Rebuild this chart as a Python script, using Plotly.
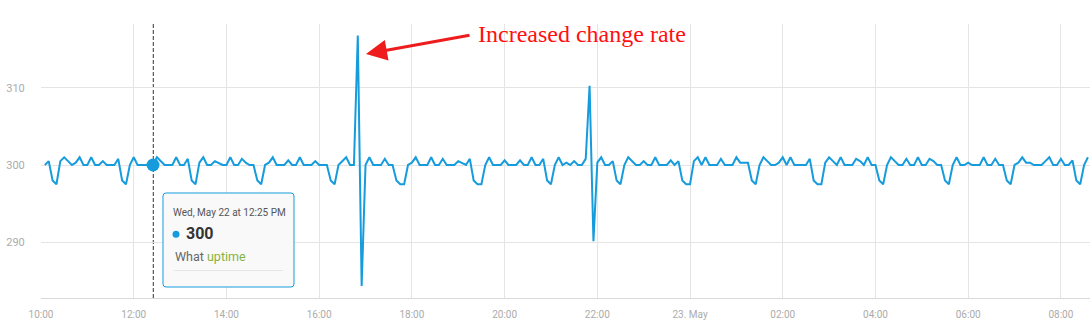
import pandas as pd
import plotly.graph_objects as go

# ---------------- data ----------------
start_time = "2019-05-22 10:05"
step = "5min"
values = [
    300.0, 300.5, 298.0, 297.5, 300.5, 301.0, 300.5, 300.0, 300.3, 301.0,
    300.0, 300.0, 301.0, 300.0, 300.0, 300.5, 300.0, 300.0, 300.0, 300.8,
    298.0, 297.5, 300.0, 301.0, 300.0, 300.0, 300.0, 300.0, 300.0, 301.0,
    300.5, 300.0, 300.0, 300.0, 301.0, 300.0, 300.0, 300.8, 298.0, 297.5,
    300.3, 301.0, 300.0, 300.0, 300.5, 300.3, 300.0, 300.0, 301.0, 300.0,
    300.0, 300.8, 300.3, 300.0, 300.0, 298.0, 297.5, 300.0, 300.3, 301.0,
    300.0, 300.0, 300.0, 300.6, 300.0, 300.0, 301.0, 300.0, 300.0, 300.0,
    300.5, 300.0, 300.0, 300.0, 298.0, 297.5, 300.0, 300.5, 301.0, 300.0,
    300.0, 316.8, 284.3, 300.0, 301.0, 300.0, 300.0, 300.0, 300.8, 300.0,
    300.0, 298.0, 297.5, 297.5, 300.0, 300.3, 301.0, 300.0, 300.0, 300.0,
    301.0, 300.0, 300.0, 300.8, 300.0, 300.0, 300.0, 300.5, 300.3, 300.0,
    300.8, 298.0, 297.5, 297.5, 300.0, 301.0, 300.0, 300.0, 300.0, 300.6,
    300.0, 300.0, 300.0, 300.6, 300.0, 300.0, 301.0, 300.0, 300.0, 300.8,
    298.0, 297.5, 300.0, 301.0, 300.0, 300.3, 300.0, 300.5, 300.0, 300.0,
    300.8, 310.3, 290.1, 300.3, 301.0, 300.0, 300.0, 300.5, 298.0, 297.5,
    300.0, 301.0, 300.5, 300.0, 300.0, 300.5, 300.0, 300.0, 301.0, 300.0,
    300.0, 300.0, 300.6, 300.0, 300.5, 298.0, 297.5, 297.5, 300.5, 301.0,
    300.0, 301.0, 300.0, 300.0, 300.0, 300.8, 300.0, 300.0, 300.0, 301.0,
    300.3, 300.3, 300.3, 298.0, 297.5, 300.0, 301.0, 300.5, 300.0, 300.0,
    300.3, 301.0, 300.0, 301.0, 300.0, 300.0, 300.0, 300.0, 300.8, 298.0,
    297.5, 297.5, 300.3, 301.0, 300.5, 300.0, 301.0, 300.0, 300.0, 300.0,
    300.8, 300.5, 300.0, 301.0, 300.0, 300.0, 298.0, 297.5, 300.0, 301.0,
    300.5, 300.0, 300.0, 300.8, 300.0, 300.0, 301.0, 300.0, 300.0, 300.8,
    300.5, 300.0, 300.0, 298.0, 297.5, 300.0, 301.0, 300.0, 300.0, 300.3,
    300.0, 300.0, 300.0, 301.0, 300.0, 300.0, 300.8, 300.0, 300.0, 298.0,
    297.5, 300.0, 300.3, 301.0, 300.3, 300.3, 300.0, 300.0, 300.0, 300.5,
    301.0, 300.0, 300.0, 300.8, 300.0, 300.0, 300.6, 298.0, 297.5, 300.0,
    301.0,
]
times = pd.date_range(start_time, periods=len(values), freq=step)

x_range = ["2019-05-22 10:00", "2019-05-23 08:37:40"]
y_range = [282.73, 318.31]
y_ticks = [290, 300, 310]
x_tickvals = ["2019-05-22 10:00", "2019-05-22 12:00", "2019-05-22 14:00", "2019-05-22 16:00",
              "2019-05-22 18:00", "2019-05-22 20:00", "2019-05-22 22:00", "2019-05-23 00:00",
              "2019-05-23 02:00", "2019-05-23 04:00", "2019-05-23 06:00", "2019-05-23 08:00"]
x_ticktext = ["10:00", "12:00", "14:00", "16:00", "18:00", "20:00", "22:00", "23. May",
              "02:00", "04:00", "06:00", "08:00"]

hover_index = 28  # 12:25
hover_time = times[hover_index]
hover_value = values[hover_index]
crosshair_time = "2019-05-22 12:25:20"
tooltip_title = "Wed, May 22 at 12:25 PM"
tooltip_series = "What"
tooltip_unit = "uptime"
annotation_text = "Increased change rate"

# ---------------- styling ----------------
LINE_COLOR = "#169cdc"
GRID = "#e4e4e4"
LABEL = "#ababab"

W, H = 1090, 332
L, T, R, B = 41, 24, 1090, 298


def px_x(x):
    return (x - L) / (R - L)


def px_y(y):
    return (B - y) / (B - T)


def rrect(x0, y0, x1, y1, r):
    pts = [
        ("M", x0 + r, y0), ("L", x1 - r, y0), ("Q", x1, y0, x1, y0 + r),
        ("L", x1, y1 - r), ("Q", x1, y1, x1 - r, y1), ("L", x0 + r, y1),
        ("Q", x0, y1, x0, y1 - r), ("L", x0, y0 + r), ("Q", x0, y0, x0 + r, y0),
    ]
    out = []
    for p in pts:
        cmd = p[0]
        coords = p[1:]
        s = []
        for i in range(0, len(coords), 2):
            s.append(f"{px_x(coords[i]):.6f},{px_y(coords[i+1]):.6f}")
        out.append(cmd + " ".join(s))
    return " ".join(out) + " Z"


fig = go.Figure()
fig.add_trace(go.Scatter(x=times, y=values, mode="lines",
                         line=dict(color=LINE_COLOR, width=2), hoverinfo="skip"))
fig.add_trace(go.Scatter(x=[hover_time], y=[hover_value], mode="markers",
                         marker=dict(color=LINE_COLOR, size=13), hoverinfo="skip"))

shapes = []
# dashed crosshair (drawn below the hovered marker)
shapes.append(dict(type="line", xref="x", yref="paper", x0=crosshair_time, x1=crosshair_time,
                   y0=0, y1=1, line=dict(color="#333333", width=1, dash="4px,2px"), layer="below"))
# tooltip box
shapes.append(dict(type="path", xref="paper", yref="paper",
                   path=rrect(163, 193, 294, 287, 3),
                   fillcolor="rgba(249,249,249,0.97)", line=dict(color=LINE_COLOR, width=1),
                   layer="above"))
# tooltip dot
shapes.append(dict(type="circle", xref="paper", yref="paper",
                   x0=px_x(172.5), x1=px_x(179.5), y0=px_y(237.8), y1=px_y(230.8),
                   fillcolor=LINE_COLOR, line=dict(width=0), layer="above"))
# tooltip separator
shapes.append(dict(type="line", xref="paper", yref="paper",
                   x0=px_x(174), x1=px_x(283), y0=px_y(270.5), y1=px_y(270.5),
                   line=dict(color="#e6e6e6", width=1), layer="above"))

annotations = [
    dict(xref="paper", yref="paper", x=px_x(171), y=px_y(212), xanchor="left", yanchor="middle",
         text=tooltip_title, showarrow=False,
         font=dict(family="Roboto", size=10, color="#555555")),
    dict(xref="paper", yref="paper", x=px_x(183.5), y=px_y(233), xanchor="left", yanchor="middle",
         text=f"<b>{hover_value:.0f}</b>", showarrow=False,
         font=dict(family="Roboto", size=16, color="#333333")),
    dict(xref="paper", yref="paper", x=px_x(172.5), y=px_y(256), xanchor="left", yanchor="middle",
         text=f"{tooltip_series} <span style='color:#86b23f'>{tooltip_unit}</span>", showarrow=False,
         font=dict(family="Roboto", size=12.5, color="#666666")),
    dict(xref="paper", yref="paper", x=px_x(476), y=px_y(34), xanchor="left", yanchor="middle",
         text=annotation_text, showarrow=False,
         font=dict(family="Liberation Serif", size=24, color="#ff1010")),
    dict(xref="paper", yref="paper", x=px_x(366), y=px_y(54), text="", showarrow=True,
         axref="pixel", ayref="pixel", ax=105, ay=-19,
         arrowhead=2, arrowsize=1.4, arrowwidth=3, arrowcolor="#ee1c1c"),
]

fig.update_layout(
    width=W, height=H, autosize=False,
    margin=dict(l=L, r=W - R, t=T, b=H - B, pad=0),
    paper_bgcolor="white", plot_bgcolor="white",
    showlegend=False, hovermode=False,
    shapes=shapes, annotations=annotations,
    xaxis=dict(type="date", range=x_range, tickvals=x_tickvals, ticktext=x_ticktext,
               showgrid=True, gridcolor=GRID, gridwidth=1, zeroline=False,
               showline=True, linecolor="#d9d9d9", linewidth=1,
               ticks="outside", ticklen=7, tickcolor="rgba(0,0,0,0)",
               tickfont=dict(family="Roboto", size=10, color=LABEL)),
    yaxis=dict(range=y_range, tickvals=y_ticks, showgrid=True, gridcolor=GRID, gridwidth=1,
               zeroline=False, showline=False,
               ticks="outside", ticklen=13, tickcolor="rgba(0,0,0,0)",
               tickfont=dict(family="Roboto", size=11, color=LABEL)),
)

fig.write_html("out.html")
